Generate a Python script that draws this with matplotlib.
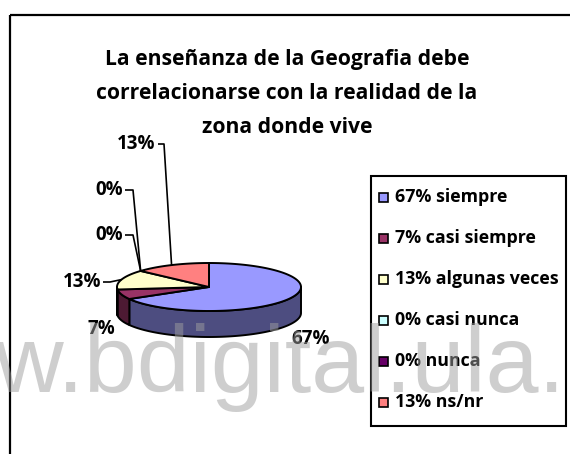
import numpy as np
import matplotlib
matplotlib.use('Agg')
import matplotlib.pyplot as plt
from matplotlib.patches import Polygon, Rectangle

# ---------------- data ----------------
categories = ['siempre', 'casi siempre', 'algunas veces', 'casi nunca', 'nunca', 'ns/nr']
counts = [10, 1, 2, 0, 0, 2]
pct_labels = ['67%', '7%', '13%', '0%', '0%', '13%']
title_lines = ['La enseñanza de la Geografia debe',
               'correlacionarse con la realidad de la',
               'zona donde vive']
watermark = 'w.bdigital.ula.'

# ---------------- style ----------------
top_colors = ['#9999FF', '#993366', '#FFFFCC', '#CCFFFF', '#660066', '#FF8080']
FONT = ['Open Sans', 'DejaVu Sans']

W, H = 570, 454
fig = plt.figure(figsize=(W / 100, H / 100), dpi=100)
ax = fig.add_axes([0, 0, 1, 1])
ax.set_xlim(0, W)
ax.set_ylim(H, 0)
ax.axis('off')

# outer chart frame
ax.add_patch(Rectangle((9.5, 14.5), 800, 800, fill=False, lw=1.6, ec='black', zorder=1))

# title
for i, line in enumerate(title_lines):
    ax.text(287, 65 + 34 * i, line, ha='center', va='baseline', fontsize=15.2,
            fontweight='bold', family=FONT, zorder=3)

# ---------------- 3D pie ----------------
cx, cy, rx, ry, depth = 209, 287, 92, 24, 26
total = sum(counts)
fracs = np.array(counts, dtype=float) / total
starts = 90 - 360 * np.concatenate([[0], np.cumsum(fracs)[:-1]])
ends = starts - 360 * fracs


def pt(theta, dz=0.0):
    t = np.radians(theta)
    return cx + rx * np.cos(t), cy - ry * np.sin(t) + dz


def darken(hexcol, f=0.5):
    r, g, b = matplotlib.colors.to_rgb(hexcol)
    return (r * f, g * f, b * f)


# side walls (front half only)
for i in range(len(counts)):
    if counts[i] == 0:
        continue
    a, b = ends[i], starts[i]
    for k in (-2, -1, 0, 1):
        lo = max(a, -180 + 360 * k)
        hi = min(b, 360 * k)
        if lo < hi:
            th = np.linspace(lo, hi, 80)
            top = [pt(t) for t in th]
            bot = [pt(t, depth) for t in th[::-1]]
            ax.add_patch(Polygon(top + bot, closed=True, fc=darken(top_colors[i]),
                                 ec='black', lw=1.4, joinstyle='round', zorder=4))

# top faces
for i in range(len(counts)):
    if counts[i] == 0:
        continue
    th = np.linspace(starts[i], ends[i], 120)
    poly = [(cx, cy)] + [pt(t) for t in th]
    ax.add_patch(Polygon(poly, closed=True, fc=top_colors[i], ec='black', lw=1.4,
                         joinstyle='round', zorder=5))

# data labels
label_xy = [(311, 339), (101, 329), (82, 282), (109, 235), (109, 190), (136, 144)]
leader_start = [None, None, 103, 125, 125, 158]
leader_elbow = [None, None, 110, 133, 133, 164]
for i, lab in enumerate(pct_labels):
    x, y = label_xy[i]
    ax.text(x, y, lab, ha='center', va='center', fontsize=13.5, fontweight='bold',
            family=FONT, zorder=6)
    if leader_start[i] is not None:
        mid = (starts[i] + ends[i]) / 2
        tx, ty = pt(mid)
        ax.plot([leader_start[i], leader_elbow[i], tx], [y, y, ty], color='black',
                lw=1.2, zorder=6, solid_capstyle='butt')

# ---------------- legend ----------------
ax.add_patch(Rectangle((370.5, 175.5), 195, 250, fill=False, lw=1.5, ec='black', zorder=6))
for i, cat in enumerate(categories):
    y = 197 + 41 * i
    ax.add_patch(Rectangle((378.5, y - 4.5), 9, 9, fc=top_colors[i], ec='black',
                           lw=1.2, zorder=6))
    ax.text(395, y, f'{pct_labels[i]} {cat}', ha='left', va='center', fontsize=12.8,
            fontweight='bold', family=FONT, zorder=6)

# ---------------- watermark ----------------
ax.text(-6, 392, watermark, ha='left', va='baseline', fontsize=68.5,
        family=['Liberation Sans', 'DejaVu Sans'], color=(0.62, 0.62, 0.62),
        alpha=0.5, zorder=10)

fig.savefig('out.png', dpi=100)
